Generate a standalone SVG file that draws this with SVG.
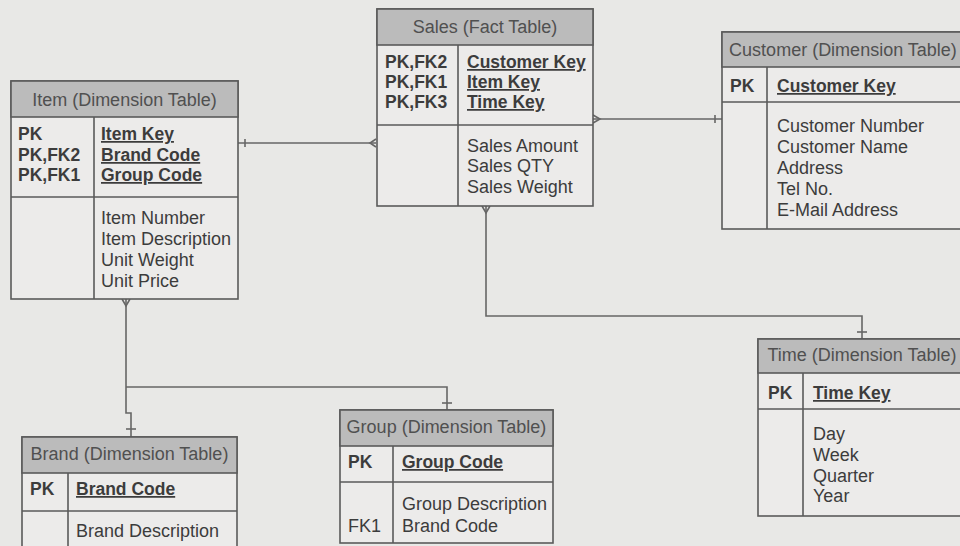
<svg xmlns="http://www.w3.org/2000/svg" width="960" height="546" viewBox="0 0 960 546">
  <style>
    .bg { fill: #e8e8e6; }
    .box { fill: #ecebea; stroke: #5a5a5a; stroke-width: 1.6; }
    .head { fill: #bbbbbb; stroke: #5a5a5a; stroke-width: 1.6; }
    .sep { stroke: #5a5a5a; stroke-width: 1.6; fill: none; }
    text { font-family: "Liberation Sans", Arial, sans-serif; font-size: 18px; fill: #3c3c3c; }
    .title { fill: #505050; text-anchor: middle; }
    .key { font-weight: bold; font-size: 17.5px; }
    .pk { font-weight: bold; font-size: 17.5px; text-decoration: underline; }
    .conn { stroke: #666; stroke-width: 1.6; fill: none; }
  </style>

  <rect class="bg" x="0" y="0" width="960" height="546"/>

  <!-- Relationship lines (one = bar, many = fork) -->
  <g id="connectors">
    <!-- Item to Sales -->
    <line class="conn" x1="238" y1="143" x2="376" y2="143"/>
    <line class="conn" x1="245" y1="139" x2="245" y2="147"/>
    <polyline class="conn" points="376,139 370,143 376,147"/>
    <!-- Sales to Customer -->
    <line class="conn" x1="593" y1="119" x2="722" y2="119"/>
    <polyline class="conn" points="593,115 600,119 593,123"/>
    <line class="conn" x1="715" y1="115" x2="715" y2="123"/>
    <!-- Sales to Time -->
    <path class="conn" d="M486,206 V316 H862 V339"/>
    <polyline class="conn" points="482,206 486,213 490,206"/>
    <line class="conn" x1="857" y1="332" x2="867" y2="332"/>
    <!-- Item to Brand -->
    <path class="conn" d="M126,299 V413 H131 V437"/>
    <polyline class="conn" points="122,299 126,306 130,299"/>
    <line class="conn" x1="126" y1="429" x2="136" y2="429"/>
    <!-- Item to Group -->
    <path class="conn" d="M126,387 H447 V410"/>
    <line class="conn" x1="442" y1="403" x2="452" y2="403"/>
  </g>

  <!-- Sales fact table -->
  <g id="sales">
    <rect class="box" x="377" y="9" width="216" height="197"/>
    <rect class="head" x="377" y="9" width="216" height="36"/>
    <line class="sep" x1="377" y1="125" x2="593" y2="125"/>
    <line class="sep" x1="458" y1="45" x2="458" y2="206"/>
    <text class="title" x="485" y="33">Sales (Fact Table)</text>
    <text class="key" x="385" y="68">PK,FK2</text>
    <text class="key" x="385" y="88">PK,FK1</text>
    <text class="key" x="385" y="108">PK,FK3</text>
    <text class="pk" x="467" y="68">Customer Key</text>
    <text class="pk" x="467" y="88">Item Key</text>
    <text class="pk" x="467" y="108">Time Key</text>
    <text x="467" y="152">Sales Amount</text>
    <text x="467" y="172">Sales QTY</text>
    <text x="467" y="193">Sales Weight</text>
  </g>

  <!-- Item dimension -->
  <g id="item">
    <rect class="box" x="11" y="81" width="227" height="218"/>
    <rect class="head" x="11" y="81" width="227" height="36"/>
    <line class="sep" x1="11" y1="197" x2="238" y2="197"/>
    <line class="sep" x1="94" y1="117" x2="94" y2="299"/>
    <text class="title" x="124.5" y="106">Item (Dimension Table)</text>
    <text class="key" x="18" y="140">PK</text>
    <text class="key" x="18" y="161">PK,FK2</text>
    <text class="key" x="18" y="181">PK,FK1</text>
    <text class="pk" x="101" y="140">Item Key</text>
    <text class="pk" x="101" y="161">Brand Code</text>
    <text class="pk" x="101" y="181">Group Code</text>
    <text x="101" y="224">Item Number</text>
    <text x="101" y="245">Item Description</text>
    <text x="101" y="266">Unit Weight</text>
    <text x="101" y="287">Unit Price</text>
  </g>

  <!-- Customer dimension -->
  <g id="customer">
    <rect class="box" x="722" y="32" width="242" height="197"/>
    <rect class="head" x="722" y="32" width="242" height="35"/>
    <line class="sep" x1="722" y1="102" x2="964" y2="102"/>
    <line class="sep" x1="767" y1="67" x2="767" y2="229"/>
    <text class="title" x="843" y="56">Customer (Dimension Table)</text>
    <text class="key" x="730" y="92">PK</text>
    <text class="pk" x="777" y="92">Customer Key</text>
    <text x="777" y="132">Customer Number</text>
    <text x="777" y="153">Customer Name</text>
    <text x="777" y="174">Address</text>
    <text x="777" y="195">Tel No.</text>
    <text x="777" y="216">E-Mail Address</text>
  </g>

  <!-- Time dimension -->
  <g id="time">
    <rect class="box" x="758" y="339" width="208" height="177"/>
    <rect class="head" x="758" y="339" width="208" height="34"/>
    <line class="sep" x1="758" y1="409" x2="966" y2="409"/>
    <line class="sep" x1="803" y1="373" x2="803" y2="516"/>
    <text class="title" x="862" y="361">Time (Dimension Table)</text>
    <text class="key" x="768" y="399">PK</text>
    <text class="pk" x="813" y="399">Time Key</text>
    <text x="813" y="440">Day</text>
    <text x="813" y="461">Week</text>
    <text x="813" y="482">Quarter</text>
    <text x="813" y="502">Year</text>
  </g>

  <!-- Brand dimension -->
  <g id="brand">
    <rect class="box" x="22" y="437" width="215" height="120"/>
    <rect class="head" x="22" y="437" width="215" height="36"/>
    <line class="sep" x1="22" y1="511" x2="237" y2="511"/>
    <line class="sep" x1="68" y1="473" x2="68" y2="557"/>
    <text class="title" x="129.5" y="460">Brand (Dimension Table)</text>
    <text class="key" x="30" y="495">PK</text>
    <text class="pk" x="76" y="495">Brand Code</text>
    <text x="76" y="537">Brand Description</text>
  </g>

  <!-- Group dimension -->
  <g id="group">
    <rect class="box" x="340" y="410" width="213" height="133"/>
    <rect class="head" x="340" y="410" width="213" height="36"/>
    <line class="sep" x1="340" y1="482" x2="553" y2="482"/>
    <line class="sep" x1="393" y1="446" x2="393" y2="543"/>
    <text class="title" x="446.5" y="433">Group (Dimension Table)</text>
    <text class="key" x="348" y="468">PK</text>
    <text class="pk" x="402" y="468">Group Code</text>
    <text x="402" y="510">Group Description</text>
    <text x="348" y="532">FK1</text>
    <text x="402" y="532">Brand Code</text>
  </g>
</svg>
